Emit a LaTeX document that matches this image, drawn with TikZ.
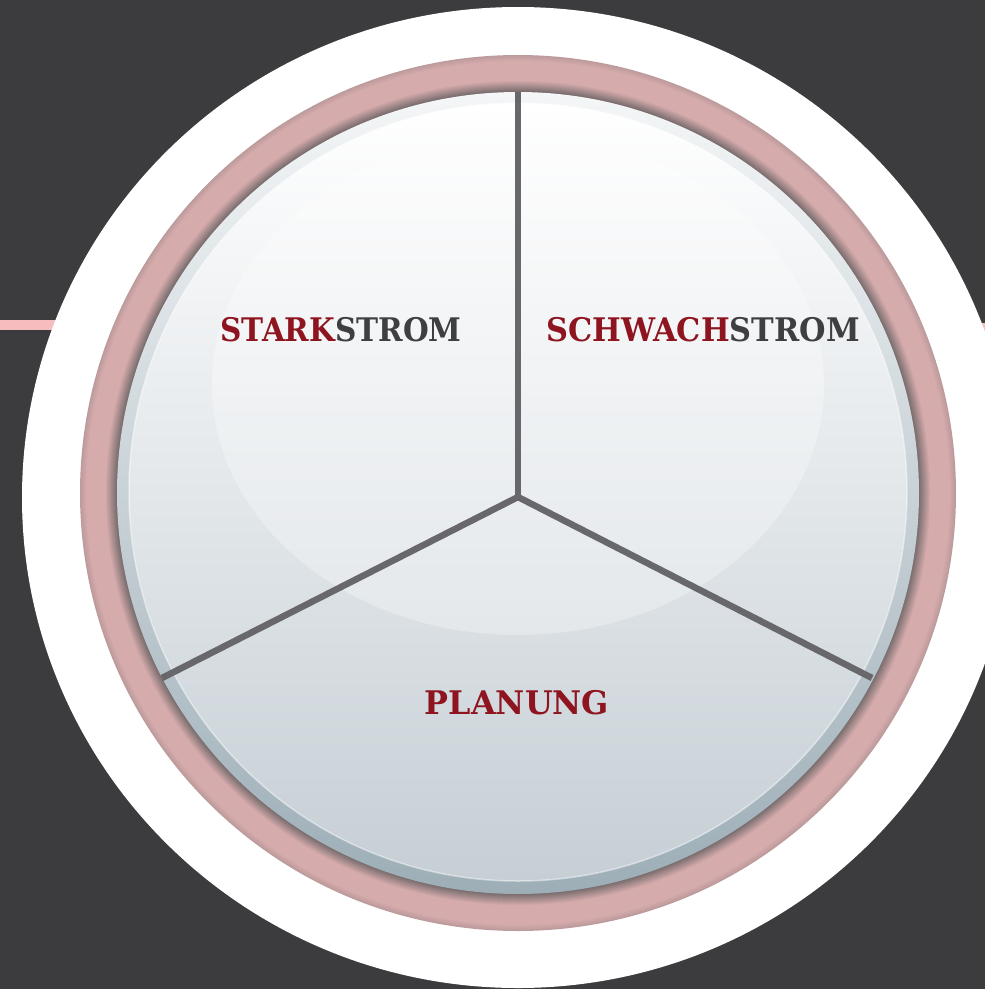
\documentclass[tikz,border=0pt]{standalone}
\usepackage{fontspec}
\newfontfamily\labfont{DejaVu Serif}
\definecolor{bgc}{HTML}{3C3C3E}
\definecolor{pinkline}{HTML}{F7BDBE}
\definecolor{pinkc}{HTML}{D5ABAC}
\definecolor{shadowc}{HTML}{74696A}
\definecolor{outerc}{HTML}{9A8485}
\definecolor{rimtop}{HTML}{F4F6F7}
\definecolor{rimbot}{HTML}{9DAEB7}
\definecolor{facetop}{HTML}{FFFFFF}
\definecolor{facemid}{HTML}{EDF0F2}
\definecolor{facebot}{HTML}{C6CFD5}
\definecolor{spokec}{HTML}{68686C}
\definecolor{redt}{HTML}{8E1420}
\definecolor{grayt}{HTML}{3F3F41}
\tikzset{
  spoke/.style={draw=spokec, line width=6.5pt},
  lab/.style={font=\labfont\bfseries\fontsize{32.5}{36}\selectfont, inner sep=0pt, anchor=center},
  pinkbar/.style={draw=pinkline, line width=10pt}
}
\begin{document}
\begin{tikzpicture}[x=1pt,y=-1pt]
\useasboundingbox (0,0) rectangle (985,989);
\fill[bgc] (0,0) rectangle (985,989);
% pink bars behind white disc
\coordinate (pl1) at (0,325);
\coordinate (pl2) at (80,325);
\coordinate (pr1) at (940,328);
\coordinate (pr2) at (985,328);
\draw[pinkbar] (pl1) -- (pl2);
\draw[pinkbar] (pr1) -- (pr2);
% white disc
\fill[white] (518,497.5) ellipse [x radius=496, y radius=490.5];
% pink ring with shading
\foreach \r in {438,437,...,401}{
  \pgfmathsetmacro{\m}{\r>=432 ? 100-(\r-432)*7 : (\r<413 ? (\r-401)/12*100 : 100)}
  \pgfmathsetmacro{\k}{\r>=432 ? 1 : 0}
  \ifdim\k pt>0.5pt
    \fill[pinkc!\m!outerc] (518,493) circle [radius=\r];
  \else
    \fill[pinkc!\m!shadowc] (518,493) circle [radius=\r];
  \fi
}
% disc rim and face
\shade[top color=rimtop, bottom color=rimbot] (518,493) circle [radius=401];
\shade[top color=facetop, middle color=facemid, bottom color=facebot] (518,492) circle [radius=389];
\draw[white, opacity=0.45, line width=1.5pt] (518,492) circle [radius=389];
% highlight
\fill[white, opacity=0.3] (518,385) ellipse [x radius=306, y radius=250];
% spokes
\coordinate (c) at (518,497);
\coordinate (etop) at (518,92);
\coordinate (eleft) at (162,678);
\coordinate (eright) at (872,678);
\draw[spoke] (c) -- (etop);
\draw[spoke, line join=miter] (eleft) -- (c) -- (eright);
% labels
\node[lab] (stark) at (341,330) {\scalebox{0.91}[1]{\textcolor{redt}{STARK}\textcolor{grayt}{STROM}}};
\node[lab] (schwach) at (703,330) {\scalebox{0.935}[1]{\textcolor{redt}{SCHWACH}\textcolor{grayt}{STROM}}};
\node[lab] (plan) at (517,703) {\scalebox{0.98}[1]{\textcolor{redt}{PLANUNG}}};
\end{tikzpicture}
\end{document}
